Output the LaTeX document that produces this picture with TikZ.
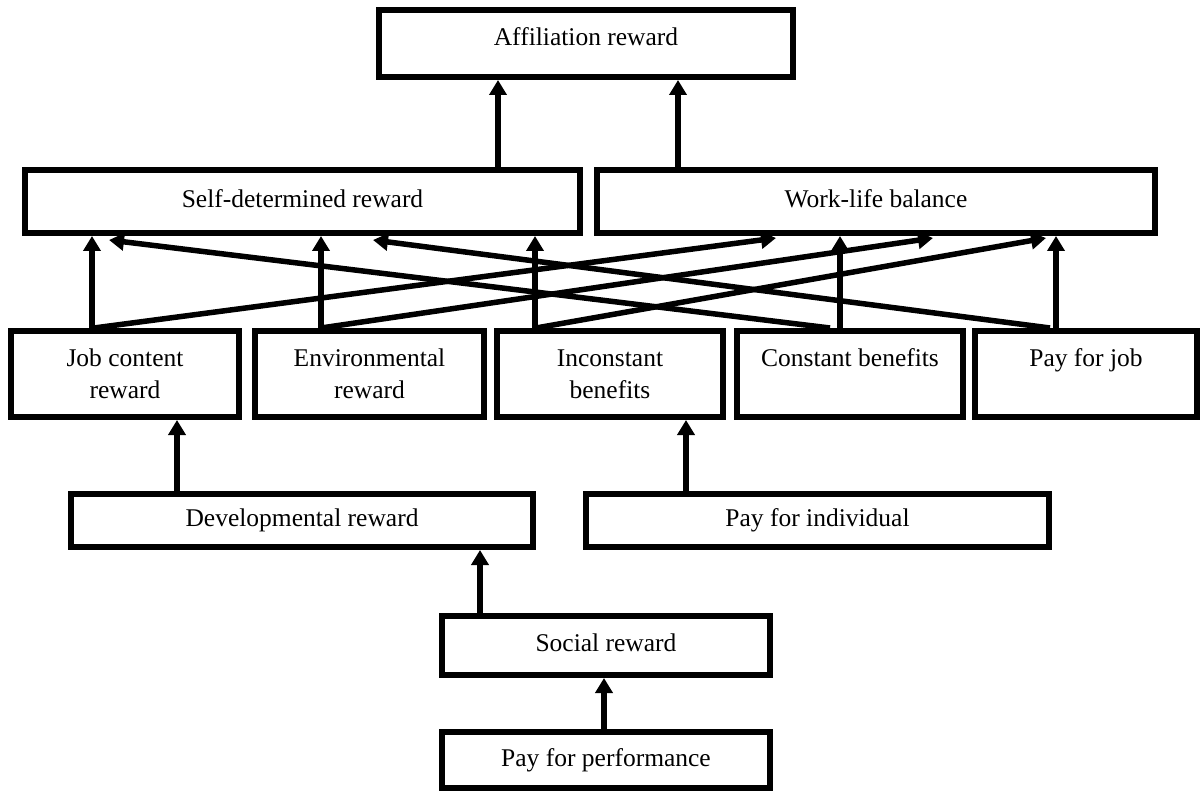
\documentclass[tikz,border=0pt]{standalone}
\usepackage{fontspec}
\setmainfont{Liberation Serif}
\usetikzlibrary{arrows.meta}
\begin{document}
\begin{tikzpicture}[x=1pt,y=-1pt,
  box/.style={draw=black, line width=6pt, fill=white, inner sep=0pt,
    font=\fontsize{25.5}{32}\selectfont, align=center},
  one/.style={text height=17.5pt, text depth=5.5pt},
  arr/.style={line width=5.5pt, -{Triangle[length=15pt,width=17pt]}}]
\useasboundingbox (0,0) rectangle (1201,791);

\node[box,one,minimum width=414pt,minimum height=67pt,text depth=13pt] (aff) at (586,43.5) {Affiliation reward};
\node[box,one,minimum width=555pt,minimum height=63pt] (self) at (302.5,201.5) {Self-determined reward};
\node[box,one,minimum width=558pt,minimum height=63pt] (wlb) at (876,201.5) {Work-life balance};
\node[box,minimum width=228pt,minimum height=86pt] (job) at (125,374) {Job content\\reward};
\node[box,minimum width=229pt,minimum height=86pt] (env) at (369.5,374) {Environmental\\reward};
\node[box,minimum width=226pt,minimum height=86pt] (inc) at (610,374) {Inconstant\\benefits};
\node[box,minimum width=226pt,minimum height=86pt] (con) at (850,374) {Constant benefits\\\mbox{}};
\node[box,minimum width=222pt,minimum height=86pt] (pfj) at (1086,374) {Pay for job\\\mbox{}};
\node[box,one,minimum width=462pt,minimum height=53pt] (dev) at (302,520.5) {Developmental reward};
\node[box,one,minimum width=463pt,minimum height=53pt] (pfi) at (817.5,520.5) {Pay for individual};
\node[box,one,minimum width=328pt,minimum height=59pt] (soc) at (606,645.5) {Social reward};
\node[box,one,minimum width=328pt,minimum height=56pt] (pfp) at (606,760) {Pay for performance};

% top level
\draw[arr] ([xshift=195.5pt]self.north) coordinate (a1) -- (a1 |- aff.south);
\draw[arr] ([xshift=-198pt]wlb.north) coordinate (a2) -- (a2 |- aff.south);

% vertical arrows row 2 -> row 1
\draw[arr] ([xshift=-33pt]job.north) coordinate (b1) -- (b1 |- self.south);
\draw[arr] ([xshift=-48.5pt]env.north) coordinate (b2) -- (b2 |- self.south);
\draw[arr] ([xshift=-75pt]inc.north) coordinate (b3) -- (b3 |- self.south);
\draw[arr] ([xshift=-10pt]con.north) coordinate (b4) -- (b4 |- wlb.south);
\draw[arr] ([xshift=-30pt]pfj.north) coordinate (b5) -- (b5 |- wlb.south);

% diagonal arrows
\draw[arr] ([xshift=-31pt]job.north) -- ([xshift=-100pt,yshift=-2pt]wlb.south);
\draw[arr] ([xshift=-48.5pt]env.north) -- ([xshift=57pt,yshift=-2pt]wlb.south);
\draw[arr] ([xshift=-74pt]inc.north) -- ([xshift=170pt,yshift=-2pt]wlb.south);
\draw[arr] ([xshift=-20pt]con.north) -- ([xshift=-193.5pt,yshift=-4pt]self.south);
\draw[arr] ([xshift=-36pt]pfj.north) -- ([xshift=70.5pt,yshift=-4pt]self.south);

% lower arrows
\draw[arr] ([xshift=-125pt]dev.north) coordinate (c1) -- (c1 |- job.south);
\draw[arr] ([xshift=-131.5pt]pfi.north) coordinate (c2) -- (c2 |- inc.south);
\draw[arr] ([xshift=-126pt]soc.north) coordinate (c3) -- (c3 |- dev.south);
\draw[arr] ([xshift=-2pt]pfp.north) coordinate (c4) -- (c4 |- soc.south);
\end{tikzpicture}
\end{document}
